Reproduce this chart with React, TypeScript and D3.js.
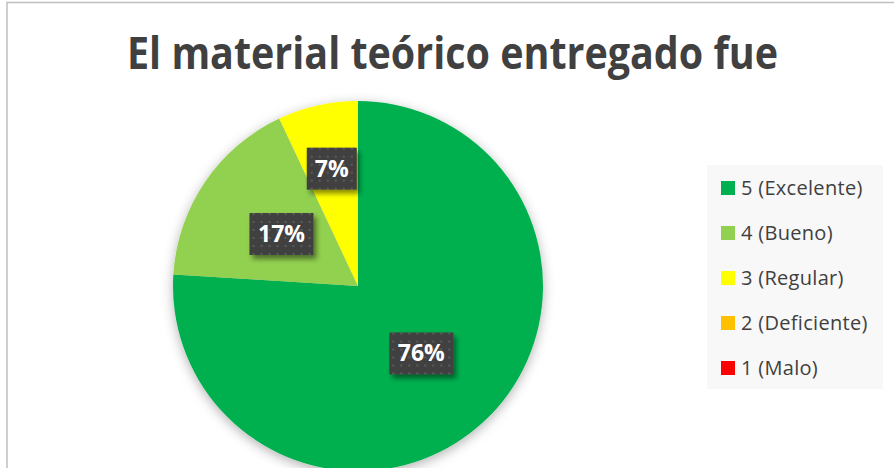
import React from "react";
import * as d3 from "d3";

const categories = ["5 (Excelente)", "4 (Bueno)", "3 (Regular)", "2 (Deficiente)", "1 (Malo)"];
const values = [76, 17, 7, 0, 0];
const colors = ["#00b050", "#92d050", "#ffff00", "#ffc000", "#ff0000"];
const title = "El material teórico entregado fue";

const W = 894;
const H = 468;

export default function App() {
  const cx = 358, cy = 286, R = 185;
  const total = d3.sum(values);
  const arcs = d3.pie<number>().sort(null).value((d) => d)(values);
  const arc = d3.arc<d3.PieArcDatum<number>>().innerRadius(0).outerRadius(R);
  const labelArc = (r: number) => d3.arc<d3.PieArcDatum<number>>().innerRadius(r).outerRadius(r);

  const legendY = d3.scalePoint<string>().domain(categories).range([188, 368]);

  return (
    <div style={{ position: "absolute", left: 0, top: 0 }}>
      <svg width={W} height={H} style={{ display: "block" }}>
        <defs>
          <filter id="pieShadow" x="-20%" y="-20%" width="140%" height="140%">
            <feDropShadow dx="0" dy="3" stdDeviation="6" floodColor="#000" floodOpacity="0.3" />
          </filter>
          <filter id="boxShadow" x="-30%" y="-30%" width="160%" height="160%">
            <feDropShadow dx="3" dy="4" stdDeviation="2.5" floodColor="#000" floodOpacity="0.45" />
          </filter>
          <pattern id="dots" patternUnits="userSpaceOnUse" width="8" height="8">
            <rect width="8" height="8" fill="#404040" />
            <rect x="3" y="3" width="2" height="2" fill="#5a5a5a" />
          </pattern>
        </defs>
        <rect x={0} y={0} width={W} height={H} fill="#fff" />
        <rect x={7} y={2.5} width={W + 10} height={H + 10} fill="#fff" stroke="#bfbfbf" strokeWidth={1.5} />

        <text
          x={452.5}
          y={69}
          textAnchor="middle"
          fontFamily="'Open Sans', sans-serif"
          fontWeight="bold"
          fontSize={44}
          fill="#404040"
          textLength={651}
          lengthAdjust="spacingAndGlyphs"
        >
          {title}
        </text>

        <g transform={`translate(${cx},${cy})`}>
          <g filter="url(#pieShadow)">
            {arcs.map((d, i) => (
              <path key={i} d={arc(d) || ""} fill={colors[i]} />
            ))}
          </g>
          {arcs.map((d, i) => {
            if (d.value <= 0) return null;
            const span = d.endAngle - d.startAngle;
            const r = span < 0.6 ? R * 0.65 : R * 0.5;
            const [lx, ly] = labelArc(r).centroid(d);
            const txt = `${Math.round((d.value / total) * 100)}%`;
            const bw = 22 + 14 * txt.length;
            const bh = 42;
            return (
              <g key={"l" + i} transform={`translate(${lx},${ly})`}>
                <rect x={-bw / 2} y={-bh / 2} width={bw} height={bh} fill="url(#dots)" filter="url(#boxShadow)" />
                <text
                  x={0}
                  y={8}
                  textAnchor="middle"
                  fontFamily="'Open Sans', sans-serif"
                  fontWeight="bold"
                  fontSize={23}
                  fill="#fff"
                >
                  {txt}
                </text>
              </g>
            );
          })}
        </g>

        <rect x={707} y={165} width={176} height={224} fill="#f8f8f8" />
        {categories.map((c, i) => (
          <g key={c} transform={`translate(721,${legendY(c)})`}>
            <rect x={0} y={-7} width={14} height={14} fill={colors[i]} />
            <text
              x={20}
              y={7}
              fontFamily="'Open Sans', sans-serif"
              fontSize={20}
              letterSpacing={0.3}
              fill="#404040"
            >
              {c}
            </text>
          </g>
        ))}
      </svg>
    </div>
  );
}
